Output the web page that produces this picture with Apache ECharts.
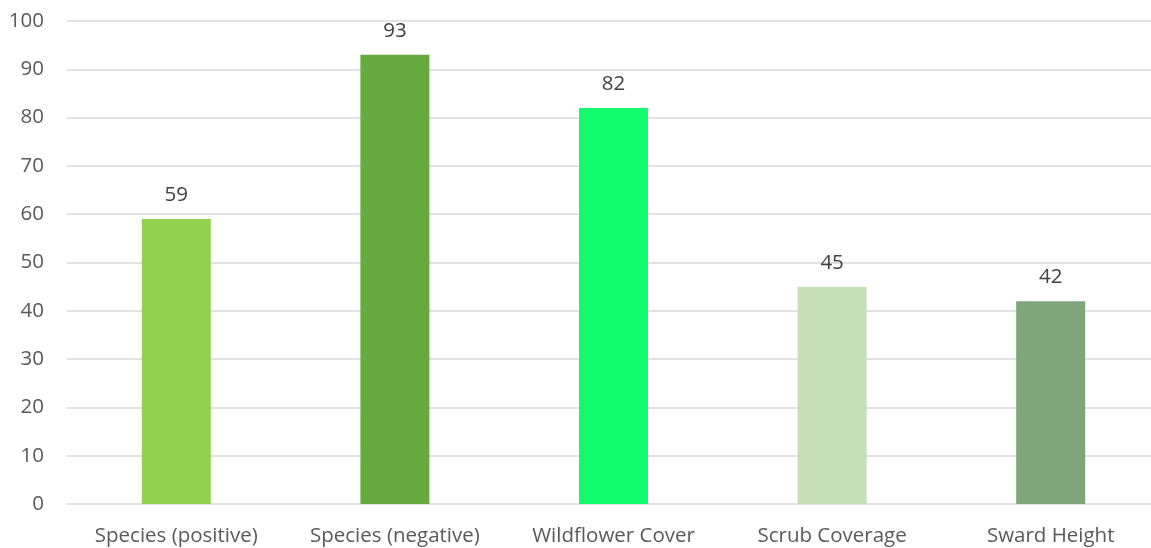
<!DOCTYPE html>
<html>
<head>
<meta charset="utf-8">
<script src="https://cdn.jsdelivr.net/npm/echarts@6/dist/echarts.min.js"></script>
<style>
  html, body { margin: 0; padding: 0; background: #fff; }
  #main { width: 1151px; height: 548px; }
</style>
</head>
<body>
<div id="main"></div>
<script>
var categories = ['Species (positive)', 'Species (negative)', 'Wildflower Cover', 'Scrub Coverage', 'Sward Height'];
var values = [59, 93, 82, 45, 42];
var barColors = ['#92d050', '#66a93e', '#12fb6f', '#c5e0b4', '#7ea67a'];
var yTicks = [0, 10, 20, 30, 40, 50, 60, 70, 80, 90, 100];

var chart = echarts.init(document.getElementById('main'));

var font = '"Open Sans", "Liberation Sans", sans-serif';

var option = {
    animation: false,
    textStyle: { fontFamily: font },
    grid: {
        left: 67,
        top: 21,
        width: 1093,
        height: 483,
        containLabel: false,
        outerBoundsMode: 'none'
    },
    xAxis: {
        type: 'category',
        data: categories,
        axisLine: { show: false },
        axisTick: { show: false },
        axisLabel: {
            interval: 0,
            color: '#595959',
            fontSize: 20.5,
            fontFamily: font,
            margin: 22
        }
    },
    yAxis: {
        type: 'value',
        min: yTicks[0],
        max: yTicks[yTicks.length - 1],
        interval: 10,
        axisLine: { show: false },
        axisTick: { show: false },
        axisLabel: {
            color: '#595959',
            fontSize: 20.5,
            fontFamily: font,
            margin: 23
        },
        splitLine: {
            lineStyle: { color: '#d9d9d9', width: 1.5 }
        }
    },
    series: [{
        type: 'bar',
        barWidth: 69,
        data: values.map(function (v, i) {
            return { value: v, itemStyle: { color: barColors[i] } };
        }),
        label: {
            show: true,
            position: 'top',
            distance: 13,
            color: '#404040',
            fontSize: 20.5,
            fontFamily: font
        }
    }]
};

chart.setOption(option);
</script>
</body>
</html>
